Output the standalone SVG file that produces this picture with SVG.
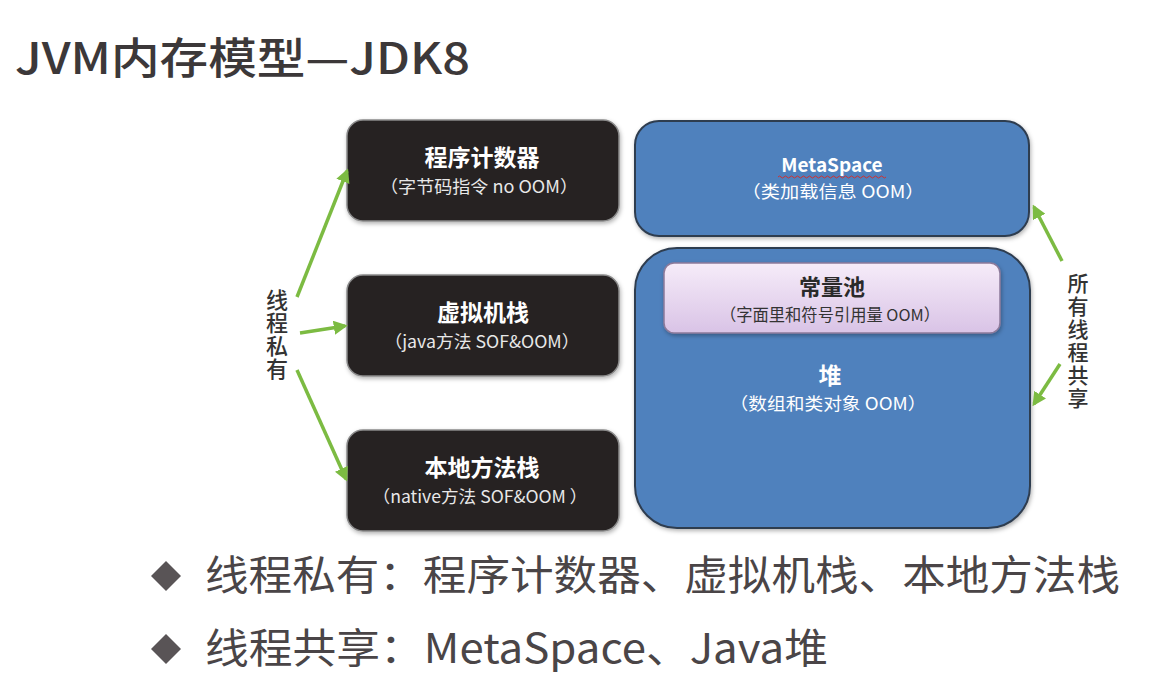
<svg xmlns="http://www.w3.org/2000/svg" width="1149" height="673" viewBox="0 0 1149 673">
<defs>
<style>
text{font-family:"Noto Sans CJK SC","Liberation Sans",sans-serif;}
.dark{fill:#262223;stroke:#8a8a8a;stroke-width:1.5;}
.blue{fill:#4f81bd;stroke:#2f3d50;stroke-width:2;}
.t1{font-size:23px;font-weight:bold;fill:#ffffff;text-anchor:middle;}
.t2{font-size:17px;fill:#e8e8e8;text-anchor:middle;}
.w{fill:#ffffff;}
.pt1{font-size:22px;font-weight:bold;fill:#2a2a2a;text-anchor:middle;}
.pt2{font-size:16.5px;fill:#333333;text-anchor:middle;}
.lab{font-size:22px;font-weight:500;fill:#333333;text-anchor:start;writing-mode:tb;}
.bul{font-size:41px;fill:#4a4547;}
.conn{stroke:#7cbb42;stroke-width:3.5;fill:none;marker-end:url(#ah);}
</style>
<marker id="ah" viewBox="0 0 10 10" refX="8" refY="5" markerWidth="4" markerHeight="4" orient="auto" markerUnits="strokeWidth">
<path d="M0,0 L10,5 L0,10 z" fill="#7cbb42"/>
</marker>
<linearGradient id="pool" x1="0" y1="0" x2="0" y2="1">
<stop offset="0" stop-color="#f6ecf9"/>
<stop offset="1" stop-color="#d9c3e6"/>
</linearGradient>
<filter id="sh" x="-5%" y="-5%" width="110%" height="115%">
<feDropShadow dx="1" dy="2" stdDeviation="2" flood-color="#000" flood-opacity="0.3"/>
</filter>
</defs>
<rect width="1149" height="673" fill="#ffffff"/>

<g id="title">
<text x="15" y="74" font-size="43" font-weight="500" fill="#3c3839" textLength="455" lengthAdjust="spacingAndGlyphs">JVM内存模型—JDK8</text>
</g>

<g id="pc">
<rect class="dark" x="347" y="120" width="272" height="101" rx="16" filter="url(#sh)"/>
<text class="t1" x="482" y="166">程序计数器</text>
<text class="t2" x="479" y="193" textLength="198" lengthAdjust="spacingAndGlyphs">（字节码指令 no OOM）</text>
</g>

<g id="vmstack">
<rect class="dark" x="347" y="275" width="272" height="101" rx="16" filter="url(#sh)"/>
<text class="t1" x="483" y="321">虚拟机栈</text>
<text class="t2" x="482" y="348" textLength="195" lengthAdjust="spacingAndGlyphs">（java方法 SOF&amp;OOM）</text>
</g>

<g id="nativestack">
<rect class="dark" x="347" y="430" width="272" height="101" rx="16" filter="url(#sh)"/>
<text class="t1" x="482" y="476">本地方法栈</text>
<text class="t2" x="480" y="503" textLength="215" lengthAdjust="spacingAndGlyphs">（native方法 SOF&amp;OOM ）</text>
</g>

<g id="metaspace">
<rect class="blue" x="635" y="121" width="394" height="115" rx="24" filter="url(#sh)"/>
<text x="832" y="172" font-size="19" font-weight="bold" fill="#ffffff" text-anchor="middle">MetaSpace</text>
<path d="M778,177 q1.5,-2 3,0 t3,0 t3,0 t3,0 t3,0 t3,0 t3,0 t3,0 t3,0 t3,0 t3,0 t3,0 t3,0 t3,0 t3,0 t3,0 t3,0 t3,0 t3,0 t3,0 t3,0 t3,0 t3,0 t3,0 t3,0 t3,0 t3,0 t3,0 t3,0 t3,0 t3,0 t3,0 t3,0 t3,0 t3,0 t3,0" fill="none" stroke="#d03030" stroke-width="1"/>
<text class="t2 w" x="833" y="198" textLength="183" lengthAdjust="spacingAndGlyphs">（类加载信息 OOM）</text>
</g>

<g id="heap">
<rect class="blue" x="635" y="248" width="395" height="280" rx="42" filter="url(#sh)"/>
<text class="t1" x="830" y="384">堆</text>
<text class="t2 w" x="828" y="410" textLength="197" lengthAdjust="spacingAndGlyphs">（数组和类对象 OOM）</text>
</g>

<g id="constpool">
<rect x="664" y="263" width="336" height="70" rx="10" fill="url(#pool)" stroke="#8c7a9a" stroke-width="1.5" filter="url(#sh)"/>
<text class="pt1" x="832" y="295">常量池</text>
<text class="pt2" x="830" y="321" textLength="220" lengthAdjust="spacingAndGlyphs">（字面里和符号引用量 OOM）</text>
</g>

<g id="private-label">
<text class="lab" x="277" y="289" letter-spacing="1">线程私有</text>
</g>

<g id="shared-label">
<text class="lab" x="1078" y="273" style="font-size:21px" letter-spacing="2">所有线程共享</text>
</g>

<g id="connectors">
<line class="conn" x1="297" y1="297" x2="347" y2="171"/>
<line class="conn" x1="300" y1="333" x2="345" y2="326"/>
<line class="conn" x1="297" y1="370" x2="346" y2="479"/>
<line class="conn" x1="1062" y1="261" x2="1034" y2="207"/>
<line class="conn" x1="1060" y1="364" x2="1034" y2="404"/>
</g>

<g id="bullets">
<path d="M166,561 L181,576 L166,591 L151,576 z" fill="#595456"/>
<text class="bul" x="205" y="590" textLength="915" lengthAdjust="spacingAndGlyphs">线程私有：程序计数器、虚拟机栈、本地方法栈</text>
<path d="M166,634 L181,649 L166,664 L151,649 z" fill="#595456"/>
<text class="bul" x="205" y="663" textLength="623" lengthAdjust="spacingAndGlyphs">线程共享：MetaSpace、Java堆</text>
</g>
</svg>
